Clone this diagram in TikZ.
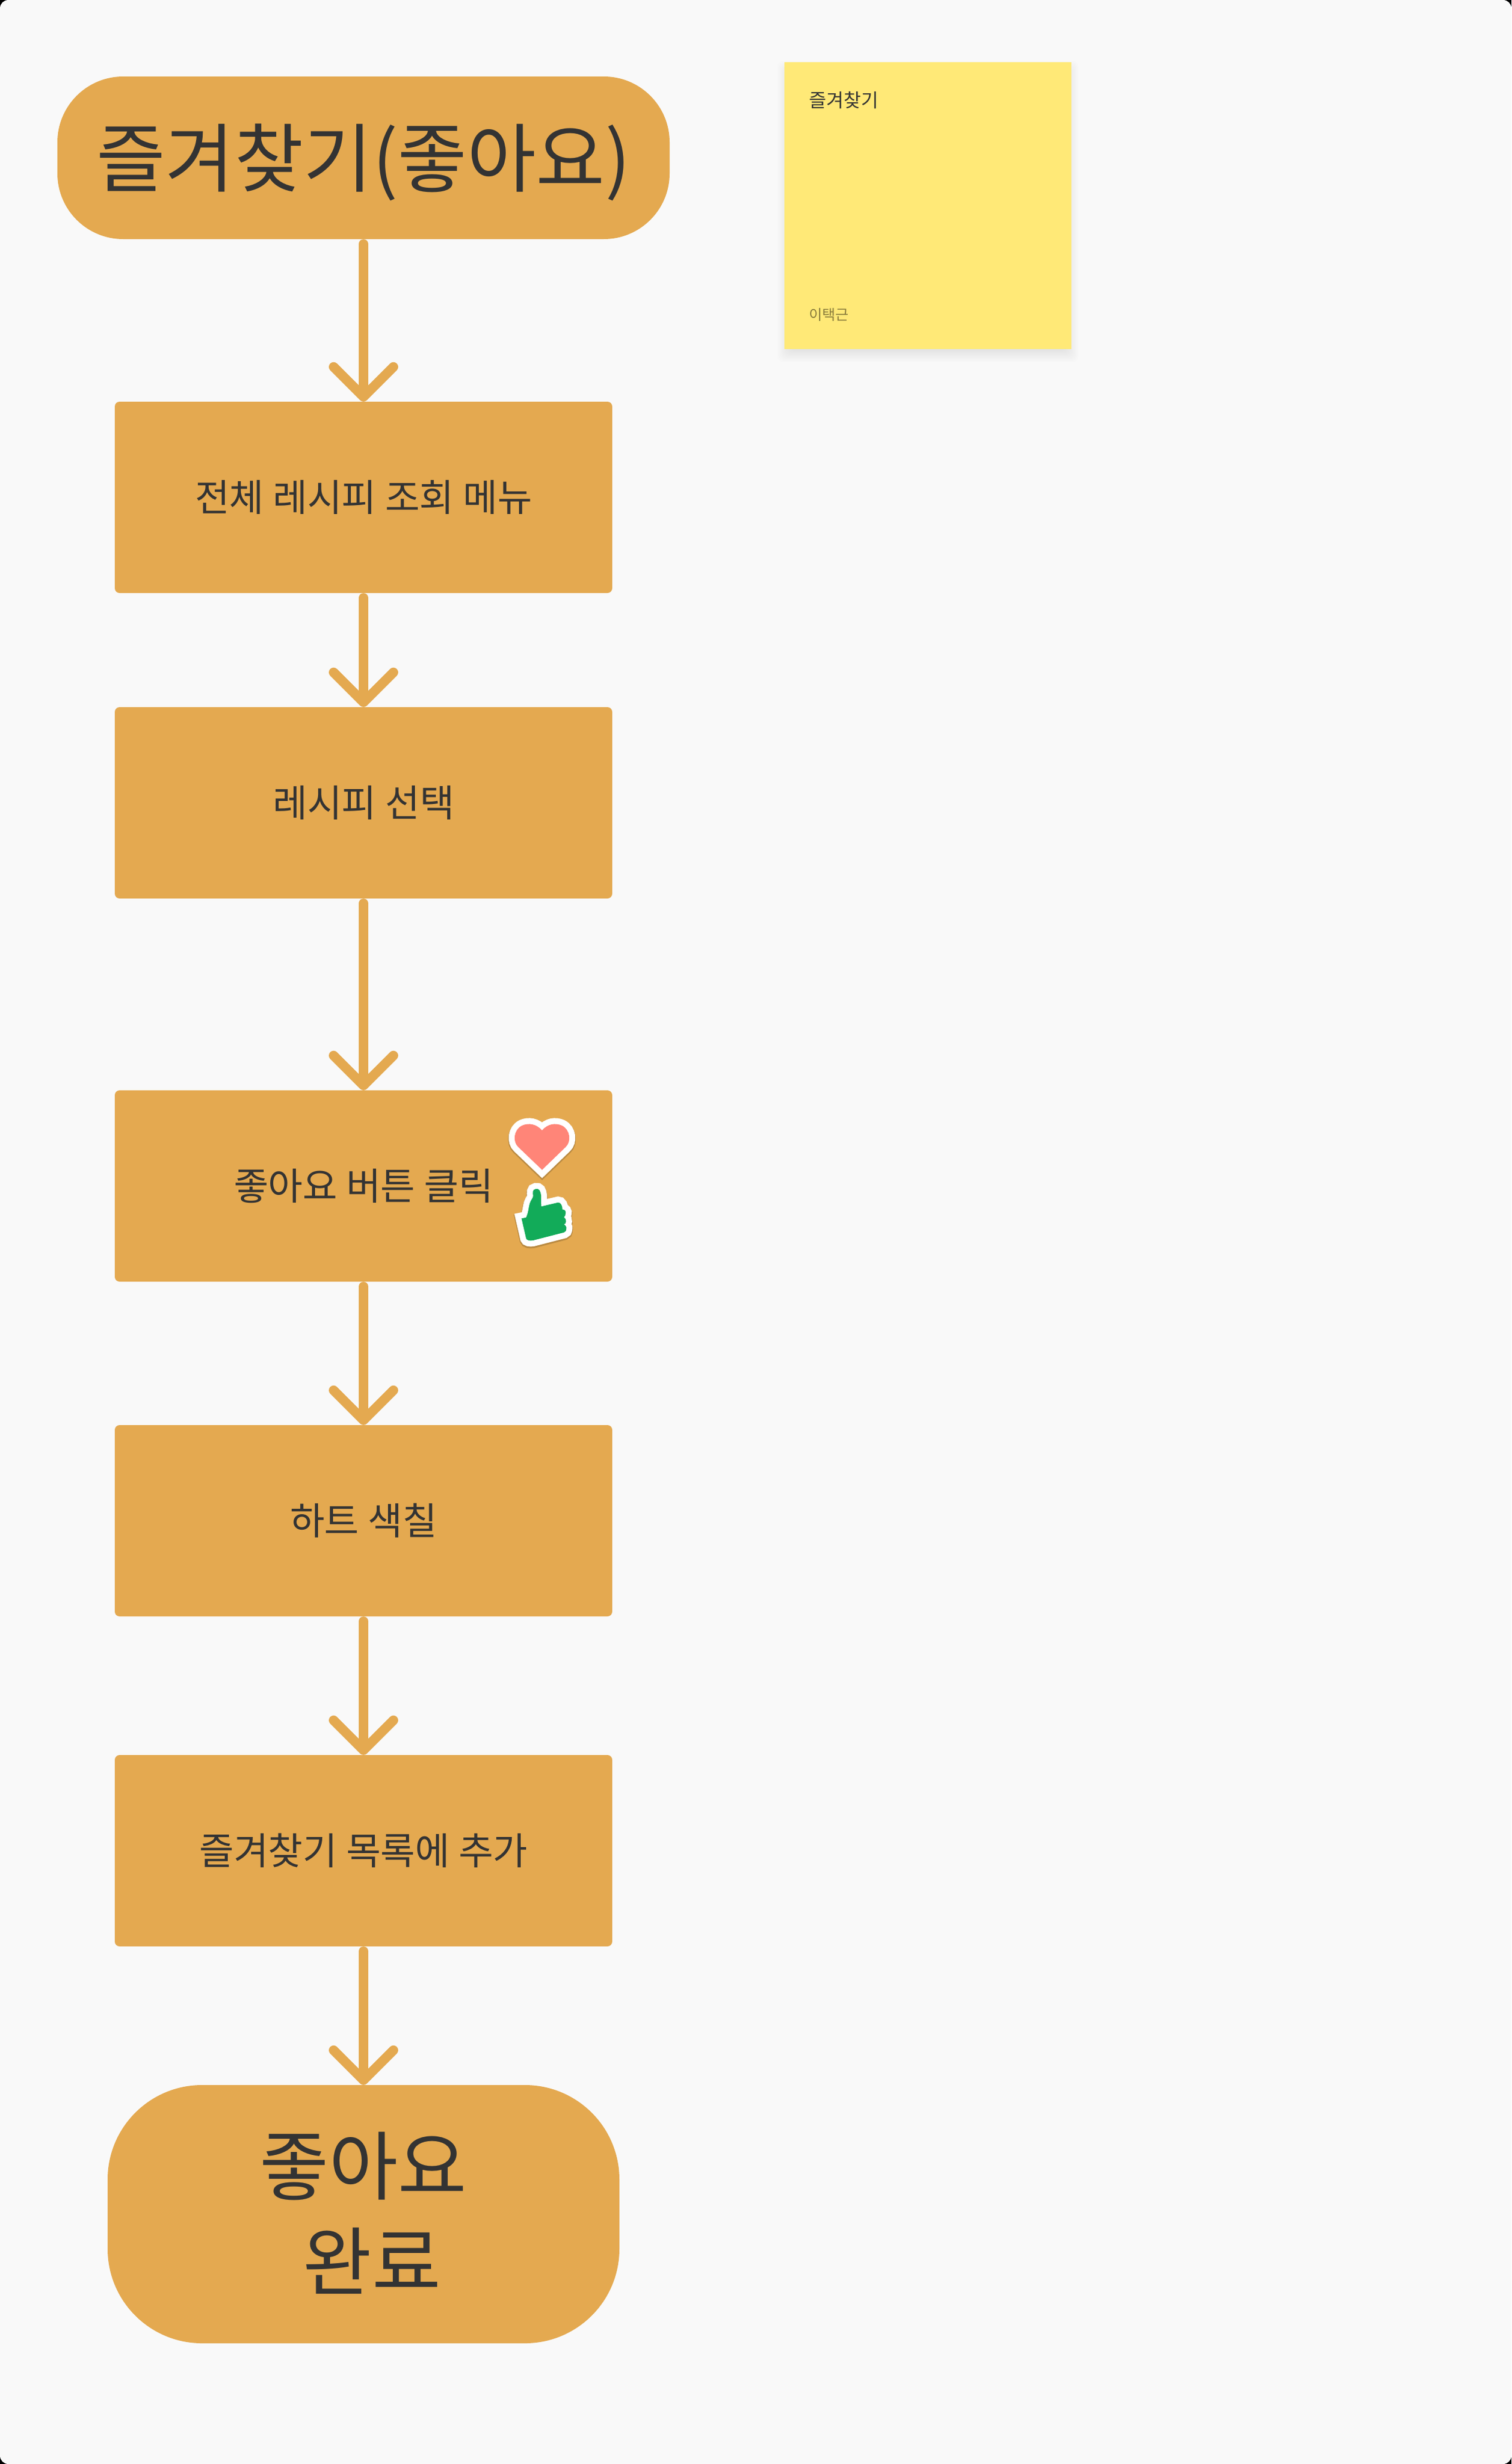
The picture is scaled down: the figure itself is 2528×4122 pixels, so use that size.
\documentclass[tikz,border=0pt]{standalone}
\usepackage{fontspec}
\usetikzlibrary{arrows.meta}
\newfontfamily\korfont{Noto Sans CJK KR}
\definecolor{flowback}{HTML}{F9F9F9}
\definecolor{flowfill}{HTML}{E4A950}
\definecolor{flowtext}{HTML}{333333}
\definecolor{stickyfill}{HTML}{FFE977}
\definecolor{stickyname}{HTML}{8A7C3C}
\definecolor{heartfill}{HTML}{FF8578}
\definecolor{thumbfill}{HTML}{12AB59}
\def\heartline{(906.7, 1891) .. controls (897, 1880) and (884, 1878) .. (873, 1883) .. controls (859, 1890) and (857, 1910) .. (867, 1919) -- (906.7, 1957) -- (946, 1919) .. controls (956, 1910) and (954, 1890) .. (940, 1883) .. controls (929, 1878) and (916, 1880) .. (906.7, 1891) -- cycle}
\def\thumbline{(872.3, 2038.3) -- (880, 2036.7) .. controls (884, 2028) and (884, 2020) .. (886, 2013.3) .. controls (888, 2007) and (892, 2004) .. (891.7, 2000) .. controls (891, 1996) and (890, 1990) .. (896, 1989) .. controls (902, 1988) and (904, 1992) .. (905, 2000) -- (905.3, 2018.3) -- (933.3, 2011.7) .. controls (938, 2011) and (941, 2018) .. (940.7, 2023.3) .. controls (945, 2023) and (947, 2027) .. (946, 2030) .. controls (946, 2033) and (945, 2035) .. (943.3, 2036) .. controls (946, 2038) and (947, 2041) .. (946.7, 2043.3) .. controls (947, 2046) and (945, 2048) .. (943.3, 2048) .. controls (946, 2050) and (948, 2053) .. (947.3, 2055) .. controls (947, 2059) and (946, 2061) .. (943.3, 2061.7) -- (891.7, 2075) .. controls (886, 2076) and (881, 2075) .. (880, 2071.7) -- cycle}
\tikzset{
	flowbox/.style={fill=flowfill, rounded corners=8pt, minimum width=832pt, minimum height=320pt, inner sep=0pt, text=flowtext, font=\korfont\fontsize{63}{80}\selectfont},
	flowpill/.style={fill=flowfill, inner sep=0pt, text=flowtext, align=center, font=\korfont\fontsize{125.5}{160}\selectfont},
	flowline/.style={draw=flowfill, line width=16pt, line cap=round, shorten <=8pt, -{Straight Barb[length=50pt, width=100pt, round]}},
	stickertrim/.style={draw=white, line width=20pt, miter limit=10},
}
\begin{document}
\begin{tikzpicture}[x=1pt, y=-1pt]
	%%%%% START %%%%%
	\fill[black] (0, 0) rectangle (2528, 4122);
	\fill[flowback, rounded corners=14pt] (0, 0) rectangle (2528, 4122);

	\node[flowpill, rounded corners=110pt, minimum width=1024pt, minimum height=272pt, text height=114pt, text depth=20pt] (favstart) at (608, 264) {즐겨찾기(좋아요)};
	\node[flowbox] (recipemenu) at (608, 832) {전체 레시피 조회 메뉴};
	\node[flowbox] (recipepick) at (608, 1343) {레시피 선택};
	\node[flowbox] (likeclick) at (608, 1984) {좋아요 버튼 클릭};
	\node[flowbox] (heartpaint) at (608, 2544) {하트 색칠};
	\node[flowbox] (favadd) at (608, 3096) {즐겨찾기 목록에 추가};
	\node[flowpill, rounded corners=158pt, minimum width=856pt, minimum height=432pt, text height=272pt, text depth=20pt] (likedone) at (608, 3704) {좋아요\\\hspace{28pt}완료};

	\draw[flowline] (favstart.south) -- (recipemenu.north);
	\draw[flowline] (recipemenu.south) -- (recipepick.north);
	\draw[flowline] (recipepick.south) -- (likeclick.north);
	\draw[flowline] (likeclick.south) -- (heartpaint.north);
	\draw[flowline] (heartpaint.south) -- (favadd.north);
	\draw[flowline] (favadd.south) -- (likedone.north);

	% heart and thumb stickers
	\draw[black, opacity=0.18, line width=22pt, miter limit=10, yshift=-2pt] \heartline;
	\draw[stickertrim, fill=white] \heartline;
	\fill[heartfill] \heartline;
	\draw[black, opacity=0.18, line width=22pt, miter limit=10, yshift=-2pt] \thumbline;
	\draw[stickertrim, fill=white] \thumbline;
	\fill[thumbfill] \thumbline;

	% note with its soft shadow
	\foreach \g in {-10, -8, ..., 12}
		\fill[black, opacity=0.009, rounded corners=10pt] (1312-\g, 114-\g) rectangle (1792+\g, 594+\g);
	\node[fill=stickyfill, minimum size=480pt, inner sep=0pt] (favnote) at (1552, 344) {};
	\node[anchor=west, inner sep=0pt, text=flowtext, font=\korfont\fontsize{31.5}{36}\selectfont] (favnotetitle) at (1353, 168) {즐겨찾기};
	\node[anchor=west, inner sep=0pt, text=stickyname, font=\korfont\fontsize{24}{28}\selectfont] (favnotename) at (1353, 527) {이택근};
	%%%%% END %%%%%
\end{tikzpicture}
\end{document}
